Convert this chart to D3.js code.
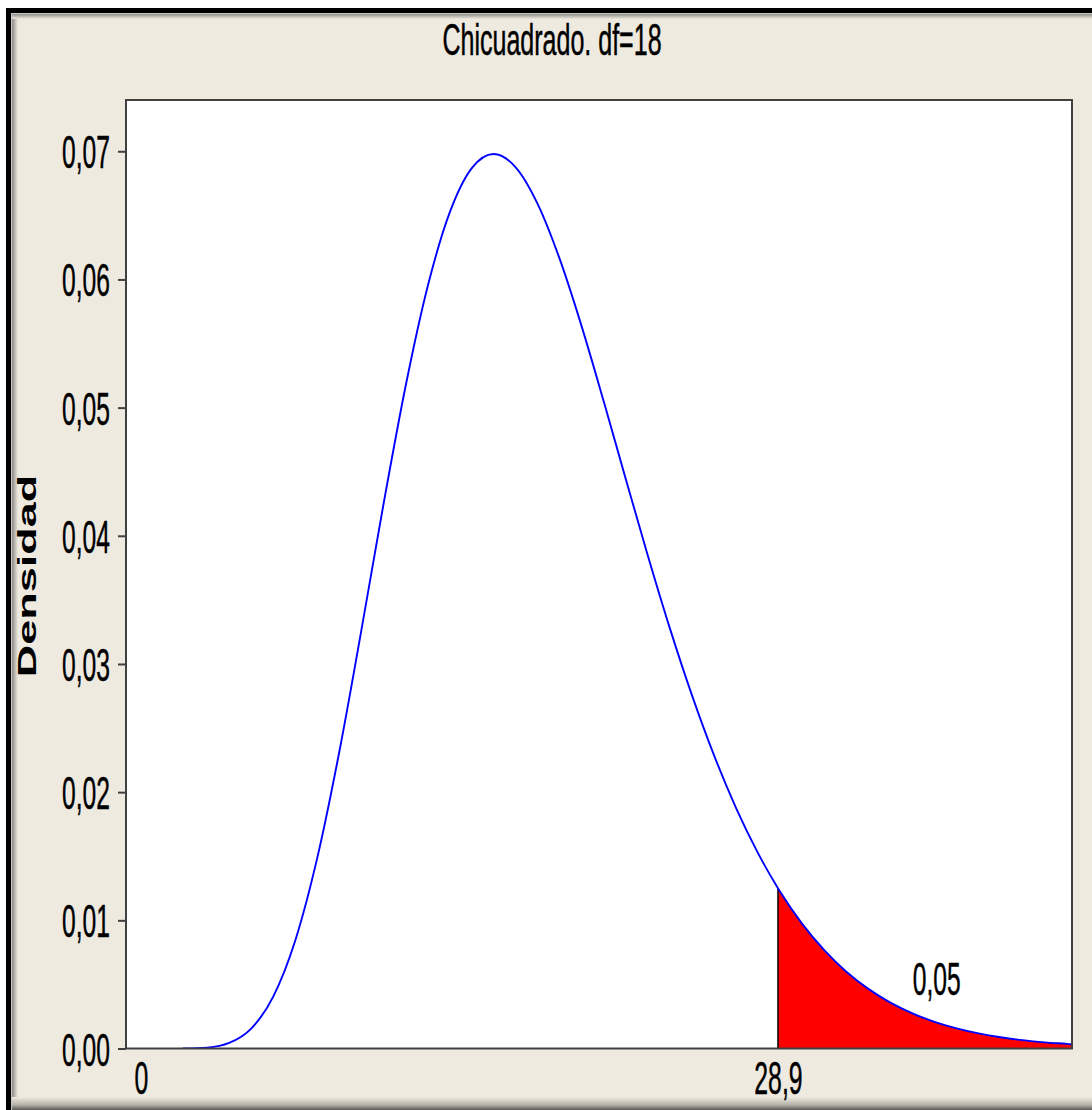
<!DOCTYPE html>
<html>
<head>
<meta charset="utf-8">
<script src="https://cdn.jsdelivr.net/npm/d3@7"></script>
<style>
  html, body { margin: 0; padding: 0; background: #ffffff; }
  svg { display: block; }
  text { font-family: "Liberation Sans", Arial, sans-serif; }
</style>
</head>
<body>
<svg id="chart" width="1092" height="1110"></svg>
<script>
// ---------- data ----------
const title = "Chicuadrado. df=18";
const yLabel = "Densidad";
const xSample = [1.9, 2, 3, 4, 5, 6, 7, 8, 9, 10, 11, 12, 13, 14, 15, 16, 17, 18, 19, 20,
  21, 22, 23, 24, 25, 26, 27, 28, 28.9, 29, 30, 31, 32, 33, 34, 35, 36, 37, 38, 39, 40, 41, 42, 42.24];
const density = [0.000003, 0.000005, 0.00007, 0.00043, 0.00155, 0.00405, 0.00843, 0.01489, 0.02317, 0.03264,
  0.04244, 0.05163, 0.05941, 0.06519, 0.06867, 0.06979, 0.06875, 0.06588, 0.06158, 0.0563,
  0.05045, 0.0444, 0.03843, 0.03276, 0.02755, 0.02287, 0.01876, 0.01522, 0.0125, 0.01222,
  0.00972, 0.00767, 0.00599, 0.00465, 0.00358, 0.00274, 0.00208, 0.00157, 0.00118, 0.00088,
  0.00065, 0.00048, 0.00036, 0.00033];
const critical = 28.9;
const tailArea = "0,05";
const tailLabelPos = [36.1, 0.0042];
const xTicks = [0, 28.9];
const xTickLabels = ["0", "28,9"];
const yTicks = [0, 0.01, 0.02, 0.03, 0.04, 0.05, 0.06, 0.07];
const yTickLabels = ["0,00", "0,01", "0,02", "0,03", "0,04", "0,05", "0,06", "0,07"];
const xDomain = [-0.68, 42.24];
const yDomain = [0, 0.074];

// ---------- layout ----------
const W = 1092, H = 1110;
const plot = { left: 126, right: 1072, top: 100, bottom: 1048.5 };
const beige = "#eeeae0";
const axisCol = "#404040";

const svg = d3.select("#chart");
const defs = svg.append("defs");

function grad(id, x1, y1, x2, y2, stops) {
  const g = defs.append("linearGradient").attr("id", id)
    .attr("x1", x1).attr("y1", y1).attr("x2", x2).attr("y2", y2);
  stops.forEach(s => g.append("stop").attr("offset", s[0]).attr("stop-color", s[1]));
}
grad("gLeft", 0, 0, 1, 0, [[0, "#7d7c78"], [1, beige]]);
grad("gTop", 0, 0, 0, 1, [[0, "#7d7c78"], [1, beige]]);
grad("gBottom", 0, 0, 0, 1, [[0, beige], [0.6, "#b5b2aa"], [1, "#5a5956"]]);

// window frame
svg.append("rect").attr("x", 0).attr("y", 0).attr("width", W).attr("height", H).attr("fill", "#ffffff");
svg.append("rect").attr("x", 6).attr("y", 8).attr("width", W - 6).attr("height", H - 8).attr("fill", beige);
svg.append("rect").attr("x", 11).attr("y", 13).attr("width", 7).attr("height", H - 13).attr("fill", "url(#gLeft)");
svg.append("rect").attr("x", 11).attr("y", 13).attr("width", W - 11).attr("height", 6).attr("fill", "url(#gTop)");
svg.append("rect").attr("x", 11).attr("y", 1097).attr("width", W - 11).attr("height", 13).attr("fill", "url(#gBottom)");
svg.append("rect").attr("x", 6).attr("y", 8).attr("width", 5).attr("height", H - 8).attr("fill", "#000");
svg.append("rect").attr("x", 6).attr("y", 8).attr("width", W - 6).attr("height", 5).attr("fill", "#000");
svg.append("rect").attr("x", 11).attr("y", 13).attr("width", 1).attr("height", H - 13).attr("fill", "#c8c8c8");
svg.append("rect").attr("x", 11).attr("y", 13).attr("width", W - 11).attr("height", 1).attr("fill", "#c8c8c8");

// scales
const x = d3.scaleLinear().domain(xDomain).range([plot.left, plot.right]);
const y = d3.scaleLinear().domain(yDomain).range([plot.bottom, plot.top]);

// plot area
svg.append("rect").attr("x", plot.left).attr("y", plot.top)
  .attr("width", plot.right - plot.left).attr("height", plot.bottom - plot.top)
  .attr("fill", "#ffffff");

defs.append("clipPath").attr("id", "clip").append("rect")
  .attr("x", plot.left).attr("y", plot.top - 2)
  .attr("width", plot.right - plot.left).attr("height", plot.bottom - plot.top + 2);

const pts = xSample.map((v, i) => ({ x: v, y: density[i] }));
const tail = pts.filter(d => d.x >= critical);

const g = svg.append("g").attr("clip-path", "url(#clip)");

// red tail area
g.append("path").datum(tail)
  .attr("fill", "#ff0000")
  .attr("d", d3.area().x(d => x(d.x)).y0(y(0)).y1(d => y(d.y)).curve(d3.curveMonotoneX));

// vertical line at critical value
const critY = tail[0].y;
g.append("line")
  .attr("x1", x(critical)).attr("x2", x(critical))
  .attr("y1", y(0)).attr("y2", y(critY))
  .attr("stroke", "#000").attr("stroke-width", 1.5);

// axes frame
svg.append("rect").attr("x", plot.left).attr("y", plot.top)
  .attr("width", plot.right - plot.left).attr("height", plot.bottom - plot.top)
  .attr("fill", "none").attr("stroke", axisCol).attr("stroke-width", 2);

// density curve
g.append("path").datum(pts)
  .attr("fill", "none").attr("stroke", "#0000ff").attr("stroke-width", 1.9)
  .attr("d", d3.line().x(d => x(d.x)).y(d => y(d.y)).curve(d3.curveMonotoneX));

const textStroke = sel => sel.attr("stroke", "#000").attr("stroke-width", 0.5).attr("paint-order", "stroke");

// y axis ticks + labels
const yAxis = d3.axisLeft(y).tickValues(yTicks).tickSize(8)
  .tickFormat((d, i) => yTickLabels[i]);
const ya = svg.append("g").attr("transform", `translate(${plot.left},0)`).call(yAxis);
ya.select(".domain").remove();
ya.selectAll(".tick line").attr("stroke", axisCol).attr("stroke-width", 2);
ya.selectAll(".tick text")
  .attr("x", null).attr("dy", null)
  .attr("fill", "#000")
  .attr("font-size", 46)
  .attr("text-anchor", "end")
  .attr("transform", "translate(-16,16.5) scale(0.536,1)")
  .call(textStroke);

// x axis labels (no tick marks)
const xAxis = d3.axisBottom(x).tickValues(xTicks).tickSize(0)
  .tickFormat((d, i) => xTickLabels[i]);
const xa = svg.append("g").attr("transform", `translate(0,${plot.bottom})`).call(xAxis);
xa.select(".domain").remove();
xa.selectAll(".tick text")
  .attr("y", null).attr("dy", null)
  .attr("fill", "#000")
  .attr("font-size", 46)
  .attr("text-anchor", "middle")
  .attr("transform", "translate(0,45) scale(0.54,1)")
  .call(textStroke);

// tail probability label
svg.append("text")
  .attr("transform", `translate(${x(tailLabelPos[0])},${y(tailLabelPos[1])}) scale(0.536,1)`)
  .attr("text-anchor", "middle").attr("font-size", 46).attr("fill", "#000")
  .text(tailArea)
  .call(textStroke);

// title
svg.append("text")
  .attr("transform", `translate(552,55) scale(0.56,1)`)
  .attr("text-anchor", "middle").attr("font-size", 44.7).attr("fill", "#000")
  .text(title)
  .call(textStroke);

// y label
svg.append("text")
  .attr("transform", `translate(36,576) rotate(-90) scale(1.8,1)`)
  .attr("text-anchor", "middle").attr("font-size", 25).attr("font-weight", "bold").attr("fill", "#000")
  .text(yLabel);
</script>
</body>
</html>
